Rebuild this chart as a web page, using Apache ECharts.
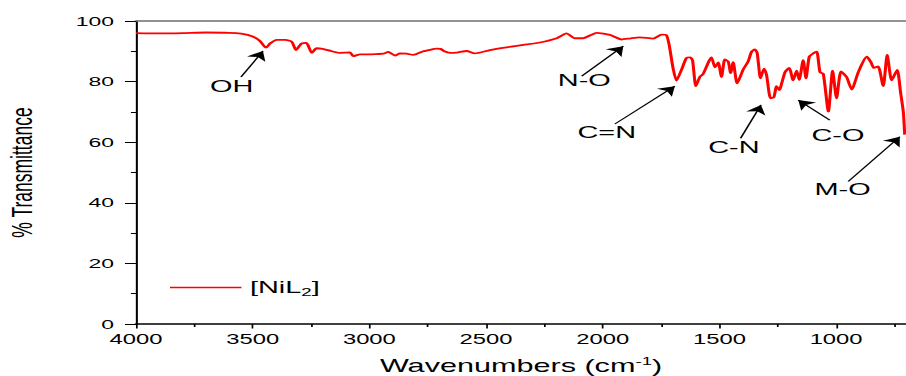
<!DOCTYPE html>
<html>
<head>
<meta charset="utf-8">
<script src="https://cdn.jsdelivr.net/npm/echarts@6/dist/echarts.min.js"></script>
<style>
html,body{margin:0;padding:0;background:#fff;overflow:hidden;}
#wrap{width:906px;height:376px;overflow:hidden;position:relative;}
#c{height:376px;transform-origin:0 0;}
</style>
</head>
<body>
<div id="wrap"><div id="c"></div></div>
<script>
// ---- data ----
const waveNumbers = [4000,3900,3800,3700,3600,3550,3500,3470,3443,3425,3397,3360,3333,3314,3300,3290,3270,3260,3247,3226,3200,3169,3130,3083,3069,3040,3000,2969,2940,2919,2890,2869,2840,2812,2769,2740,2712,2695,2676,2655,2626,2583,2548,2483,2412,2340,2269,2197,2155,2119,2084,2026,1969,1919,1880,1841,1784,1748,1727,1715,1700,1684,1662,1641,1625,1615,1601,1584,1570,1534,1519,1505,1491,1477,1462,1452,1441,1424,1398,1377,1362,1348,1338,1324,1309,1298,1281,1267,1255,1244,1219,1201,1184,1169,1158,1141,1129,1115,1098,1083,1069,1055,1033,1015,998,979,955,933,905,869,852,838,820,798,781,762,738,724,712,706];
const transmittance = [96.0,95.9,96.0,96.2,96.1,95.8,94.9,93.5,91.2,92.6,93.8,93.8,93.2,90.4,91.8,92.6,92.8,91.5,89.5,91.0,90.8,90.2,89.5,89.6,88.4,89.0,89.0,89.1,89.2,89.8,88.6,89.3,89.2,88.8,90.0,90.5,90.9,90.8,89.9,89.5,89.6,90.1,89.3,90.4,91.3,92.1,92.9,94.3,95.9,94.3,94.3,96.1,95.4,93.9,94.3,94.6,94.2,95.5,95.3,92.0,85.0,80.3,84.0,87.8,88.0,87.0,78.5,81.5,82.5,88.0,84.7,86.3,81.5,87.3,86.6,82.8,86.4,79.4,84.0,86.6,89.9,90.6,89.4,81.1,84.3,82.2,74.5,74.8,78.5,77.2,83.1,84.5,80.4,83.6,80.6,87.1,81.1,88.2,89.3,89.9,83.1,82.6,70.1,83.6,74.5,83.4,81.5,77.4,83.1,88.2,86.6,84.5,85.0,78.5,88.8,80.4,83.9,76.6,70.0,62.5];
const seriesName = '[NiL2]';
const xMajorTicks = [4000,3500,3000,2500,2000,1500,1000];
const xMinorTicks = [3750,3250,2750,2250,1750,1250,750];
const yTicks = [0,20,40,60,80,100];
const annotationLabels = ['OH','N-O','C=N','C-N','C-O','M-O'];
const annotationTextAt = [[3590,78.4],[2079,80.3],[1983,63.2],[1438,58.3],[992,62.2],[972,44.5]];
const arrowTail = [[3550,81.5],[2090,81.8],[1948,66.0],[1409,61.3],[1027,67.3],[948,47.0]];
const arrowHead = [[3456,90.1],[1912,91.7],[1691,78.5],[1322,72.3],[1162,73.9],[727,61.8]];

// ---- layout: the reference is horizontally stretched, so draw narrow and stretch ----
const S = 1.7;
const el = document.getElementById('c');
el.style.width = (906 / S) + 'px';
el.style.transform = 'scaleX(' + S + ')';

const FONT = 'Liberation Sans, Arial, sans-serif';
const chart = echarts.init(el, null, {renderer: 'svg'});

const lineData = waveNumbers.map((w, i) => [w, transmittance[i]]);
const plain = v => String(v);

chart.setOption({
  animation: false,
  backgroundColor: '#fff',
  textStyle: {fontFamily: FONT, color: '#000'},
  grid: {left: 136 / S, right: 0, top: 21, bottom: 52, containLabel: false, outerBoundsMode: 'none'},
  legend: {
    left: 100, top: 279, padding: 0,
    icon: 'rect',
    itemWidth: 42, itemHeight: 1.4, itemGap: 5,
    formatter: () => '{n|[NiL}{s|2}{n|]}',
    textStyle: {
      fontFamily: FONT, color: '#000',
      rich: {
        n: {fontSize: 17, fontFamily: FONT, color: '#000'},
        s: {fontSize: 11, fontFamily: FONT, color: '#000', padding: [9, 0, 0, 0]}
      }
    },
    data: [seriesName]
  },
  xAxis: [
    {
      type: 'value', position: 'bottom', inverse: true, min: 700, max: 4000,
      axisLine: {show: true, lineStyle: {color: '#000', width: 1.6}},
      axisTick: {show: true, inside: false, length: 4.5, customValues: xMajorTicks, lineStyle: {color: '#000', width: 1}},
      axisLabel: {show: true, customValues: xMajorTicks, formatter: plain, fontSize: 14, margin: 8, color: '#000', fontFamily: FONT},
      splitLine: {show: false},
      name: '{n|Wavenumbers (cm}{s|-1}{n|)}',
      nameLocation: 'middle', nameGap: 32,
      nameTextStyle: {
        fontFamily: FONT, color: '#000',
        rich: {
          n: {fontSize: 18, fontFamily: FONT, color: '#000'},
          s: {fontSize: 11, fontFamily: FONT, color: '#000', padding: [0, 0, 9, 0]}
        }
      }
    },
    {
      type: 'value', position: 'bottom', inverse: true, min: 700, max: 4000,
      axisLine: {show: false},
      axisTick: {show: true, inside: false, length: 3, customValues: xMinorTicks, lineStyle: {color: '#000', width: 1}},
      axisLabel: {show: false},
      splitLine: {show: false}
    },
    {
      type: 'value', position: 'top', inverse: true, min: 700, max: 4000,
      axisLine: {show: true, lineStyle: {color: '#6e6e6e', width: 1.6}},
      axisTick: {show: false},
      axisLabel: {show: false},
      splitLine: {show: false}
    }
  ],
  yAxis: {
    type: 'value', min: yTicks[0], max: yTicks[yTicks.length - 1], interval: 20,
    axisLine: {show: true, lineStyle: {color: '#000', width: 1.2}},
    axisTick: {show: true, inside: false, length: 6.5, lineStyle: {color: '#000', width: 1}},
    minorTick: {show: true, splitNumber: 2, length: 3, lineStyle: {color: '#000', width: 1}},
    axisLabel: {fontSize: 13.5, margin: 13, color: '#000', fontFamily: FONT, formatter: plain},
    splitLine: {show: false},
    name: '% Transmittance',
    nameLocation: 'middle', nameGap: 58,
    nameTextStyle: {fontSize: 17.5, fontFamily: FONT, color: '#000'}
  },
  series: [{
    name: seriesName,
    type: 'line',
    xAxisIndex: 0,
    data: lineData,
    symbol: 'none',
    smooth: 0.2,
    lineStyle: {color: '#ff0000', width: 1.8},
    itemStyle: {color: '#ff0000'},
    silent: true,
    markLine: {
      silent: true,
      symbol: ['none', 'arrow'],
      symbolSize: 9,
      label: {show: false},
      lineStyle: {color: '#000', width: 1, type: 'solid'},
      emphasis: {disabled: true},
      data: arrowTail.map((t, i) => [{coord: t}, {coord: arrowHead[i]}])
    },
    markPoint: {
      silent: true,
      symbol: 'circle',
      symbolSize: 1,
      itemStyle: {color: 'rgba(0,0,0,0)'},
      label: {show: true, position: 'inside', color: '#000', fontSize: 17, fontFamily: FONT},
      data: annotationLabels.map((t, i) => ({coord: annotationTextAt[i], value: t, label: {formatter: t}}))
    }
  }]
});
</script>
</body>
</html>
